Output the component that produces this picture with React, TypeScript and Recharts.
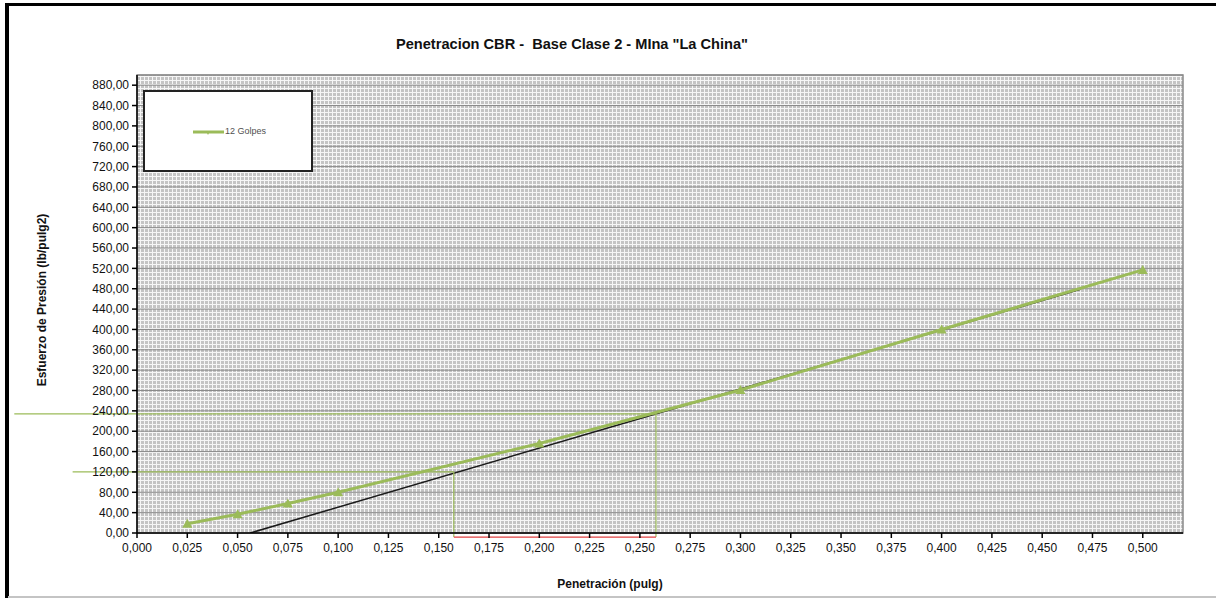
import React from 'react';
import { LineChart, Line, XAxis, YAxis, CartesianGrid, Legend, ReferenceLine, ReferenceArea } from 'recharts';

// lecturas del ensayo (12 golpes)
const penetracion = [0.025, 0.05, 0.075, 0.1, 0.2, 0.3, 0.4, 0.5];
const esfuerzo12 = [18, 37, 58, 80, 176, 281, 400, 517];

// recta corregida
const correccionX = [0.0563, 0.469];
const correccionY = [0, 479];

// lineas de lectura a 0,1" y 0,2" corregidos
const lecturaX = [0.1575, 0.258];
const lecturaY = [120, 234];
const lecturaInicioX = [-0.032, -0.061];
const lecturaBaseY = -8;

const ticksX = [0, 0.025, 0.05, 0.075, 0.1, 0.125, 0.15, 0.175, 0.2, 0.225, 0.25, 0.275, 0.3, 0.325, 0.35, 0.375, 0.4, 0.425, 0.45, 0.475, 0.5];
const ticksY = [0, 40, 80, 120, 160, 200, 240, 280, 320, 360, 400, 440, 480, 520, 560, 600, 640, 680, 720, 760, 800, 840, 880];

const serie = penetracion.map((x, i) => ({ x, y: esfuerzo12[i] }));
const recta = correccionX.map((x, i) => ({ x, y: correccionY[i] }));

const VERDE = '#9bbb59';
const FONT = '"Liberation Sans", Arial, sans-serif';

const fmtX = (v: number) => v.toFixed(3).replace('.', ',');
const fmtY = (v: number) => v.toFixed(2).replace('.', ',');

function Leyenda() {
  return (
    <div style={{ position: 'relative', width: '100%', height: '100%' }}>
      <svg width={40} height={10} style={{ position: 'absolute', left: 46, top: 35 }}>
        <line x1={2} y1={5} x2={33} y2={5} stroke={VERDE} strokeWidth={3} />
        <polygon points="15,4 19,4 17,8" fill={VERDE} />
      </svg>
      <span style={{ position: 'absolute', left: 80, top: 34, fontSize: 9, color: '#505050', fontFamily: FONT }}>12 Golpes</span>
    </div>
  );
}

const Triangulo = (props: any) => {
  const { cx, cy } = props;
  if (cx == null || cy == null) return null;
  return <polygon points={`${cx},${cy - 5} ${cx + 5},${cy + 4} ${cx - 5},${cy + 4}`} fill={VERDE} />;
};

export default function App() {
  return (
    <div style={{ position: 'absolute', left: 0, top: 0, width: 1216, height: 598, background: '#fff', overflow: 'hidden', fontFamily: FONT }}>
      <div style={{ position: 'absolute', left: 5, top: 3, width: 1220, height: 600, borderLeft: '4px solid #000', borderTop: '3px solid #000' }} />
      <div style={{ position: 'absolute', left: 8, top: 596, width: 1208, height: 2, background: '#c4c4c4' }} />
      <div style={{ position: 'absolute', left: 272, width: 600, top: 36, textAlign: 'center', fontSize: 14.6, fontWeight: 'bold', color: '#111', whiteSpace: 'pre' }}>
        {'Penetracion CBR -  Base Clase 2 - MIna "La China"'}
      </div>
      <div style={{ position: 'absolute', left: 510, width: 200, top: 577, textAlign: 'center', fontSize: 12, fontWeight: 'bold', color: '#111' }}>
        Penetración (pulg)
      </div>
      <div style={{ position: 'absolute', left: 42 - 120, width: 240, top: 301 - 8, textAlign: 'center', fontSize: 12, fontWeight: 'bold', color: '#111', transform: 'rotate(-90deg)' }}>
        Esfuerzo de Presión (lb/pulg2)
      </div>
      <LineChart width={1216} height={598} margin={{ top: 75, right: 33, bottom: 0, left: 0 }} style={{ position: 'absolute', left: 0, top: 0 }}>
        <defs>
          <pattern id="papel" width="4" height="4" patternUnits="userSpaceOnUse">
            <rect width="4" height="4" fill="#c4c4c4" />
            <path d="M0 0.5H4M0.5 0V4" stroke="#f6f6f6" strokeWidth={1} />
          </pattern>
        </defs>
        <CartesianGrid fill="url(#papel)" fillOpacity={1} stroke="#8a8a8a" vertical={false} />
        <XAxis
          type="number"
          dataKey="x"
          domain={[0, 0.52]}
          ticks={ticksX}
          tickFormatter={fmtX}
          interval={0}
          height={65}
          allowDataOverflow
          axisLine={{ stroke: '#000', strokeWidth: 1.5 }}
          tickLine={{ stroke: '#000', strokeWidth: 1.5 }}
          tickSize={5}
          tickMargin={5}
          tick={{ fill: '#111', fontSize: 12, fontFamily: FONT }}
        />
        <YAxis
          type="number"
          dataKey="y"
          domain={[0, 900]}
          ticks={ticksY}
          tickFormatter={fmtY}
          interval={0}
          width={137}
          allowDataOverflow
          axisLine={{ stroke: '#000', strokeWidth: 1.5 }}
          tickLine={{ stroke: '#000', strokeWidth: 1.5 }}
          tickSize={5}
          tickMargin={3}
          tick={{ fill: '#111', fontSize: 12, fontFamily: FONT }}
        />
        <ReferenceArea x1={0} x2={0.52} y1={0} y2={900} fill="none" fillOpacity={0} stroke="#8a8a8a" strokeWidth={1.5} />
        <Legend
          layout="horizontal"
          verticalAlign="middle"
          align="center"
          content={() => <Leyenda />}
          wrapperStyle={{ left: 143, top: 90, width: 170, height: 82, border: '2px solid #222', background: '#fff', boxSizing: 'border-box' }}
        />
        <Line data={recta} dataKey="y" stroke="#1a1a1a" strokeWidth={1.5} dot={false} isAnimationActive={false} legendType="none" />
        <Line data={serie} dataKey="y" name="12 Golpes" stroke={VERDE} strokeWidth={3} dot={<Triangulo />} isAnimationActive={false} />
        {lecturaX.map((lx, i) => (
          <ReferenceLine
            key={'h' + i}
            segment={[{ x: lecturaInicioX[i], y: lecturaY[i] }, { x: lx, y: lecturaY[i] }]}
            stroke={VERDE}
            strokeWidth={1.2}
            ifOverflow="visible"
          />
        ))}
        {lecturaX.map((lx, i) => (
          <ReferenceLine
            key={'v' + i}
            segment={[{ x: lx, y: lecturaY[i] }, { x: lx, y: lecturaBaseY }]}
            stroke={VERDE}
            strokeWidth={1.2}
            ifOverflow="visible"
          />
        ))}
        <ReferenceLine
          segment={[{ x: lecturaX[0], y: lecturaBaseY }, { x: lecturaX[1], y: lecturaBaseY }]}
          stroke="#e04040"
          strokeWidth={1.2}
          ifOverflow="visible"
        />
      </LineChart>
    </div>
  );
}
